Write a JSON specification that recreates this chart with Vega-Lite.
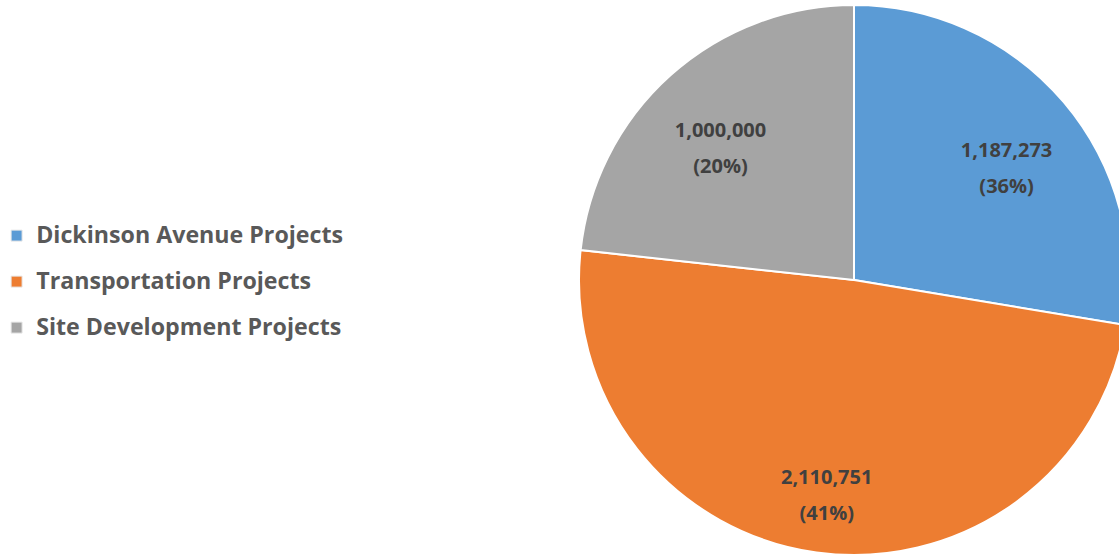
{
  "$schema": "https://vega.github.io/schema/vega-lite/v6.json",
  "width": 1708,
  "height": 560,
  "autosize": {"type": "none"},
  "padding": 0,
  "background": "white",
  "config": {"view": {"stroke": null}},
  "data": {
    "values": [
      {"idx": 1, "category": "Dickinson Avenue Projects", "value": 1187273, "label": "1,187,273\n(36%)"},
      {"idx": 2, "category": "Transportation Projects", "value": 2110751, "label": "2,110,751\n(41%)"},
      {"idx": 3, "category": "Site Development Projects", "value": 1000000, "label": "1,000,000\n(20%)"}
    ]
  },
  "encoding": {
    "theta": {"field": "value", "type": "quantitative", "stack": true},
    "order": {"field": "idx", "type": "quantitative"}
  },
  "layer": [
    {
      "mark": {"type": "arc", "outerRadius": 275, "stroke": "white", "strokeWidth": 2},
      "encoding": {
        "color": {
          "field": "category",
          "type": "nominal",
          "scale": {
            "domain": ["Dickinson Avenue Projects", "Transportation Projects", "Site Development Projects"],
            "range": ["#5B9BD5", "#ED7D31", "#A5A5A5"]
          },
          "legend": {
            "title": null,
            "orient": "none",
            "legendX": 5,
            "legendY": 224,
            "padding": 0,
            "symbolType": "square",
            "symbolSize": 121,
            "symbolStrokeColor": "#e8e8e8",
            "symbolStrokeWidth": 1,
            "labelFont": "Open Sans",
            "labelFontWeight": "bold",
            "labelFontSize": 23.2,
            "labelColor": "#595959",
            "labelOffset": 8,
            "rowPadding": 22,
            "labelLimit": 600
          }
        }
      }
    },
    {
      "mark": {
        "type": "text",
        "radius": 200,
        "font": "Open Sans",
        "fontWeight": "bold",
        "fontSize": 20,
        "color": "#404040",
        "lineBreak": "\n",
        "lineHeight": 36,
        "align": "center",
        "baseline": "middle"
      },
      "encoding": {
        "text": {"field": "label", "type": "nominal"}
      }
    }
  ]
}
